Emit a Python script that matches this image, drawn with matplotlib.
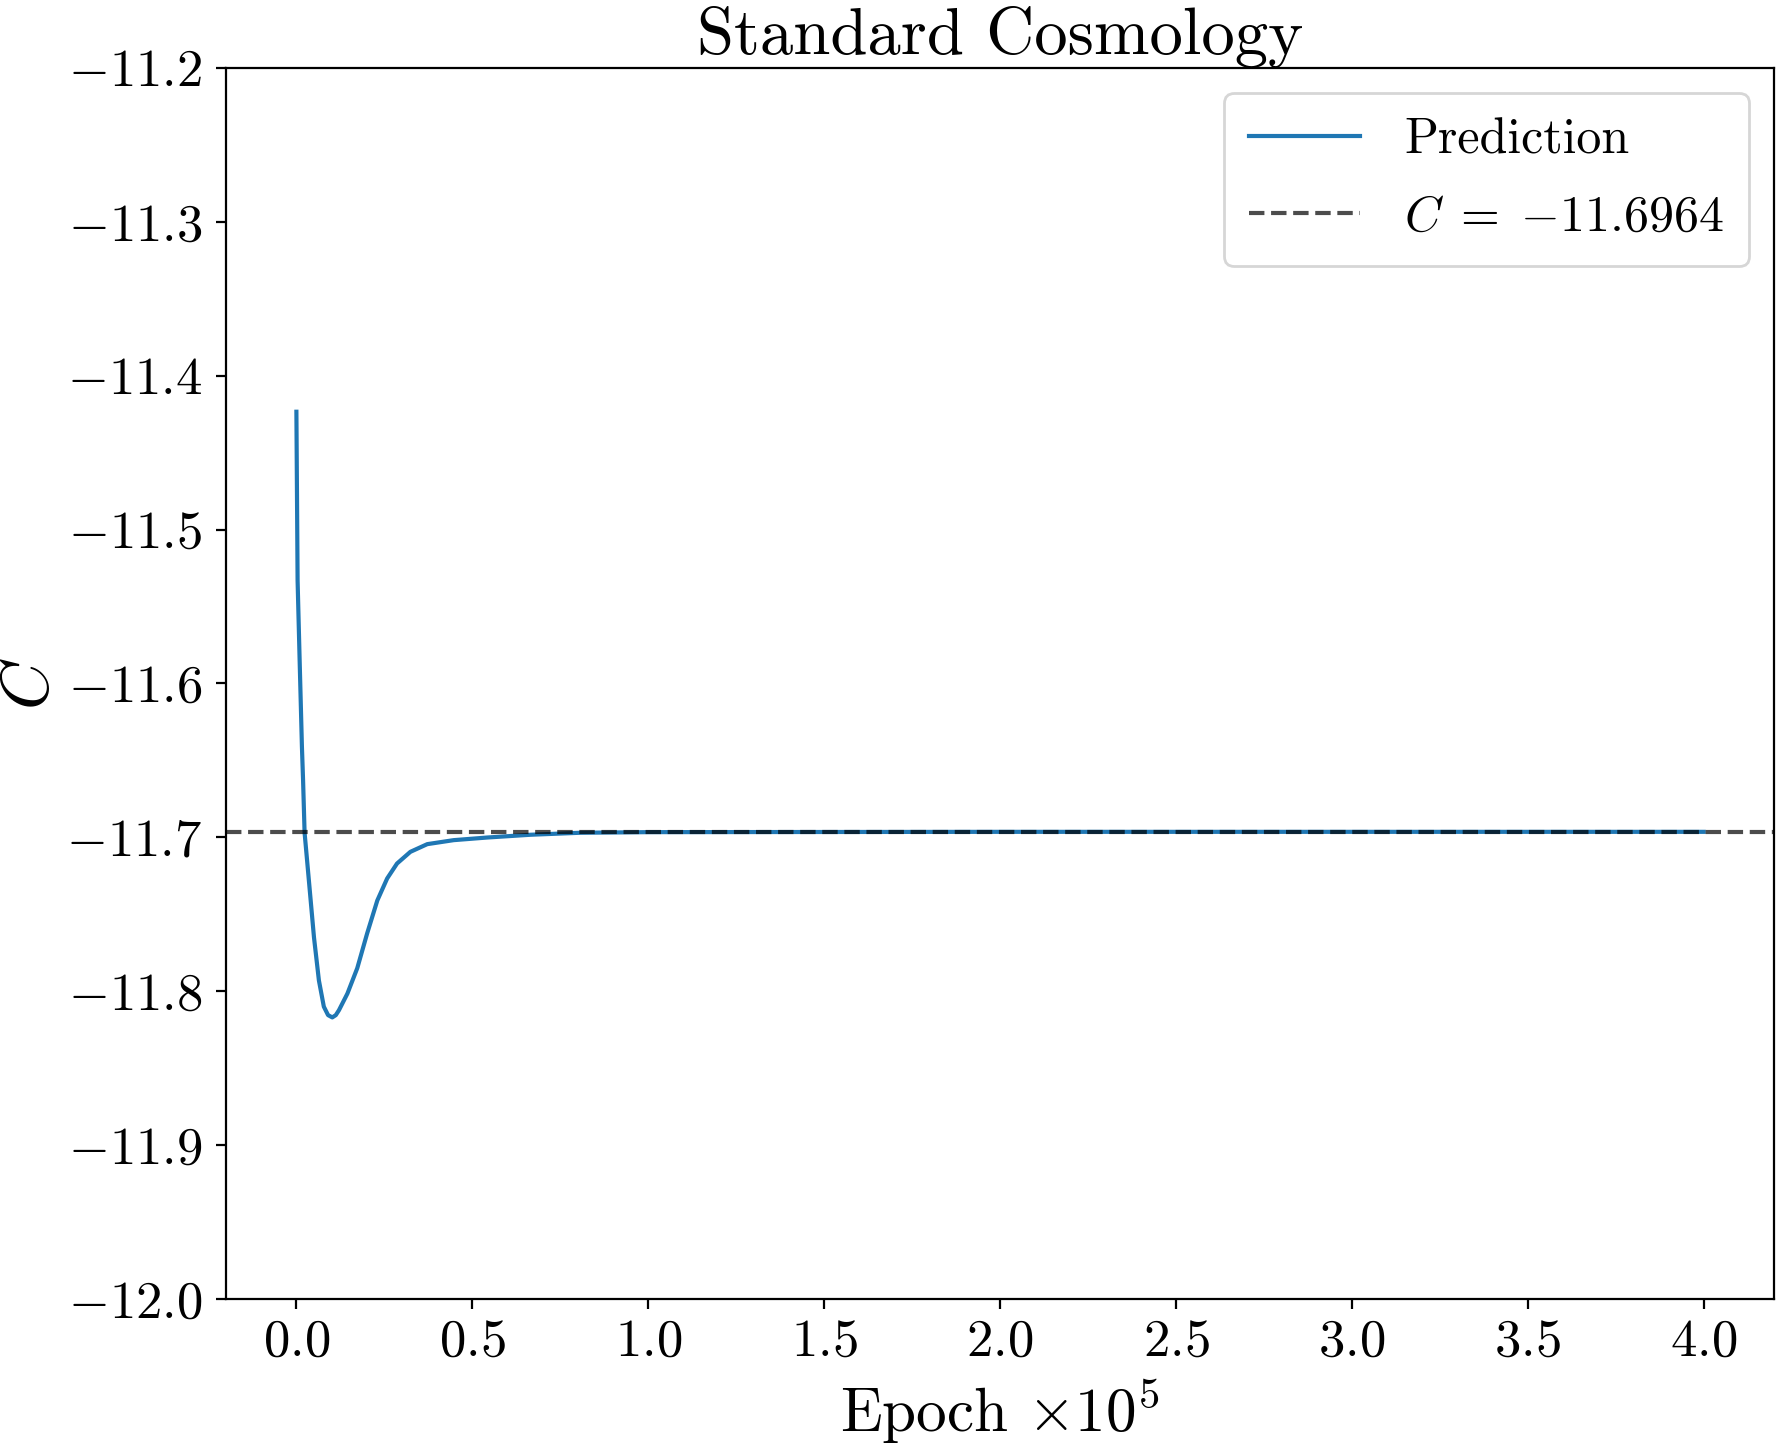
import matplotlib
matplotlib.use("Agg")
import matplotlib.pyplot as plt

plt.rcParams['font.family'] = 'cmr10'
plt.rcParams['mathtext.fontset'] = 'cm'
plt.rcParams['axes.formatter.use_mathtext'] = True

# epochs in units of 1e5
epoch = [0.0, 0.0034, 0.009, 0.0157, 0.019, 0.0233, 0.0355, 0.050, 0.064,
         0.078, 0.090, 0.102, 0.112, 0.121, 0.145, 0.173, 0.201, 0.230,
         0.258, 0.286, 0.324, 0.372, 0.447, 0.542, 0.665, 0.807, 1.0, 1.5,
         2.0, 2.5, 3.0, 3.5, 4.0]
prediction = [-11.4234, -11.533, -11.583, -11.641, -11.663, -11.697, -11.728,
              -11.765, -11.793, -11.810, -11.8155, -11.817, -11.8155, -11.8123,
              -11.8015, -11.785, -11.7625, -11.741, -11.7267, -11.717,
              -11.7094, -11.7044, -11.7018, -11.7001, -11.6983, -11.6970,
              -11.6966, -11.6965, -11.6964, -11.6964, -11.6964, -11.6964,
              -11.6964]
c_true = -11.6964

fig = plt.figure(figsize=(1777 / 200, 1449 / 200), dpi=200)
ax = fig.add_axes([0.1272, 0.1035, 0.8711, 0.8496])

ax.plot(epoch, prediction, label='Prediction')
ax.axhline(c_true, color='k', linestyle='--', alpha=0.7,
           label=r'$C\;=\;{-}11.6964$')

ax.set_ylim(-12.0, -11.2)
ax.set_title('Standard Cosmology', fontsize=24, pad=5)
ax.set_xlabel(r'Epoch $\times 10^5$', fontsize=22)
ax.set_ylabel(r'$C$', fontsize=24)
ax.xaxis.set_label_coords(0.5, -0.108)
ax.xaxis.label.set_va('baseline')
ax.yaxis.set_label_coords(-0.125, 0.5)
ax.yaxis.label.set_va('center')
ax.tick_params(labelsize=19)
ax.tick_params(axis='y', pad=5)
ax.legend(fontsize=18, loc='upper right', handlelength=2.22,
          handletextpad=0.89, labelspacing=0.62, borderpad=0.5)

fig.savefig('out.png', dpi=200)
